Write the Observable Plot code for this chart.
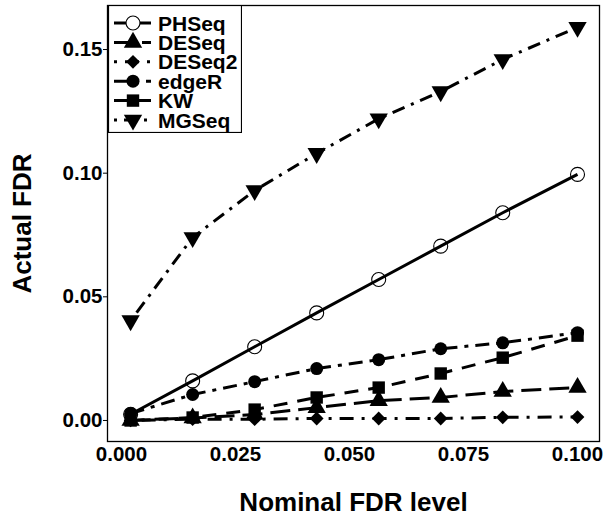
<!DOCTYPE html>
<html><head><meta charset="utf-8">
<script src="https://cdn.jsdelivr.net/npm/d3@7"></script>
<script src="https://cdn.jsdelivr.net/npm/@observablehq/plot@0.6"></script>
<style>
body{margin:0;background:#fff;}
#wrap{position:relative;width:604px;height:518px;font-family:"Liberation Sans",Arial,sans-serif;}
#legend{position:absolute;left:108px;top:5px;}
</style></head><body><div id="wrap"></div>
<script>
const nominal = [0.002, 0.0156, 0.0292, 0.0428, 0.0564, 0.0700, 0.0836, 0.1000];
const methods = ["PHSeq", "DESeq", "DESeq2", "edgeR", "KW", "MGSeq"];
const PHSeq  = [0.0025, 0.0160, 0.0298, 0.0435, 0.0570, 0.0705, 0.0840, 0.0995];
const DESeq  = [0.0000, 0.0010, 0.0024, 0.0052, 0.0080, 0.0093, 0.0117, 0.0133];
const DESeq2 = [0.0000, 0.0005, 0.0005, 0.0008, 0.0008, 0.0008, 0.0013, 0.0014];
const edgeR  = [0.0028, 0.0105, 0.0157, 0.0210, 0.0246, 0.0290, 0.0314, 0.0355];
const KW     = [0.0000, 0.0012, 0.0044, 0.0093, 0.0133, 0.0190, 0.0254, 0.0343];
const MGSeq  = [0.0404, 0.0740, 0.0930, 0.1080, 0.1220, 0.1330, 0.1460, 0.1590];
const xTicks = [0, 0.025, 0.05, 0.075, 0.1];
const yTicks = [0, 0.05, 0.10, 0.15];

const values = {PHSeq, DESeq, DESeq2, edgeR, KW, MGSeq};

const triangleDown = {
  draw(context, size) {
    const s3 = Math.sqrt(3);
    const y = -Math.sqrt(size / (s3 * 3));
    context.moveTo(0, -y * 2);
    context.lineTo(-s3 * y, y);
    context.lineTo(s3 * y, y);
    context.closePath();
  }
};

const styles = {
  PHSeq:  {dash: null,          symbol: d3.symbolCircle,   r: 7,   fill: "none", stroke: "#000", sw: 1.1},
  DESeq:  {dash: "20,8",        symbol: d3.symbolTriangle, r: 6.8, fill: "#000", stroke: "none", sw: 0},
  DESeq2: {dash: "3,8,14,8",    symbol: d3.symbolDiamond2, r: 6.2, fill: "#000", stroke: "none", sw: 0},
  edgeR:  {dash: "14,7,4,7",    symbol: d3.symbolCircle,   r: 6.5, fill: "#000", stroke: "none", sw: 0},
  KW:     {dash: "14,10",       symbol: d3.symbolSquare,   r: 7.0, fill: "#000", stroke: "none", sw: 0},
  MGSeq:  {dash: "3,7,13,7",    symbol: triangleDown,      r: 6.8, fill: "#000", stroke: "none", sw: 0}
};

const rows = methods.flatMap(m => nominal.map((x, i) => ({method: m, x, y: values[m][i]})));

const lineMarks = methods.map(m => Plot.line(rows.filter(d => d.method === m), {
  x: "x", y: "y", stroke: "#000", strokeWidth: 3,
  strokeDasharray: styles[m].dash || undefined, strokeLinecap: "butt", strokeLinejoin: "round"
}));
const dotMarks = methods.map(m => Plot.dot(rows.filter(d => d.method === m), {
  x: "x", y: "y", symbol: () => styles[m].symbol, r: styles[m].r,
  fill: styles[m].fill, stroke: styles[m].stroke, strokeWidth: styles[m].sw
}));

const chart = Plot.plot({
  width: 604, height: 518,
  marginLeft: 107, marginRight: 5, marginTop: 5, marginBottom: 77,
  x: {domain: [-0.00307, 0.10482]},
  y: {domain: [-0.0085, 0.1678]},
  symbol: {type: "identity"},
  style: {fontFamily: "'Liberation Sans', Arial, sans-serif", fontWeight: "bold", color: "#000", background: "#fff", overflow: "visible"},
  marks: [
    Plot.axisX({ticks: xTicks, tickFormat: d3.format(".3f"), tickSize: 0, tickPadding: 5, fontSize: 20.5, label: null}),
    Plot.axisY({ticks: yTicks, tickFormat: d3.format(".2f"), tickSize: 4, tickPadding: 1, fontSize: 20.5, label: null}),
    ...lineMarks,
    ...dotMarks,
    Plot.frame({stroke: "#000", strokeWidth: 1.3}),
    Plot.text(["Nominal FDR level"], {frameAnchor: "bottom", dy: 69, lineAnchor: "bottom", fontSize: 26, fontWeight: "bold"}),
    Plot.text(["Actual FDR"], {frameAnchor: "left", dx: -85, rotate: -90, textAnchor: "middle", lineAnchor: "middle", fontSize: 26, fontWeight: "bold"})
  ]
});
document.getElementById("wrap").appendChild(chart);

// legend
const lw = 134, lh = 128;
const leg = d3.select("#wrap").append("svg").attr("id", "legend").attr("width", lw).attr("height", lh);
leg.append("rect").attr("x", 0.5).attr("y", 0.5).attr("width", lw - 1).attr("height", lh - 1)
  .attr("fill", "#fff").attr("stroke", "#000").attr("stroke-width", 1.2);
methods.forEach((m, i) => {
  const cy = 18 + i * 19.4;
  const g = leg.append("g");
  g.append("line").attr("x1", 6).attr("x2", 43).attr("y1", cy).attr("y2", cy)
    .attr("stroke", "#000").attr("stroke-width", 3)
    .attr("stroke-dasharray", styles[m].dash || null);
  const size = Math.PI * styles[m].r * styles[m].r;
  g.append("path").attr("transform", `translate(25,${cy})`)
    .attr("d", d3.symbol(styles[m].symbol, size)())
    .attr("fill", styles[m].fill === "none" ? "#fff" : styles[m].fill)
    .attr("stroke", styles[m].stroke).attr("stroke-width", styles[m].sw);
  g.append("text").attr("x", 50).attr("y", cy).attr("dy", "0.36em")
    .attr("font-family", "'Liberation Sans', Arial, sans-serif").attr("font-weight", "bold")
    .attr("font-size", 21).text(m);
});
</script></body></html>
